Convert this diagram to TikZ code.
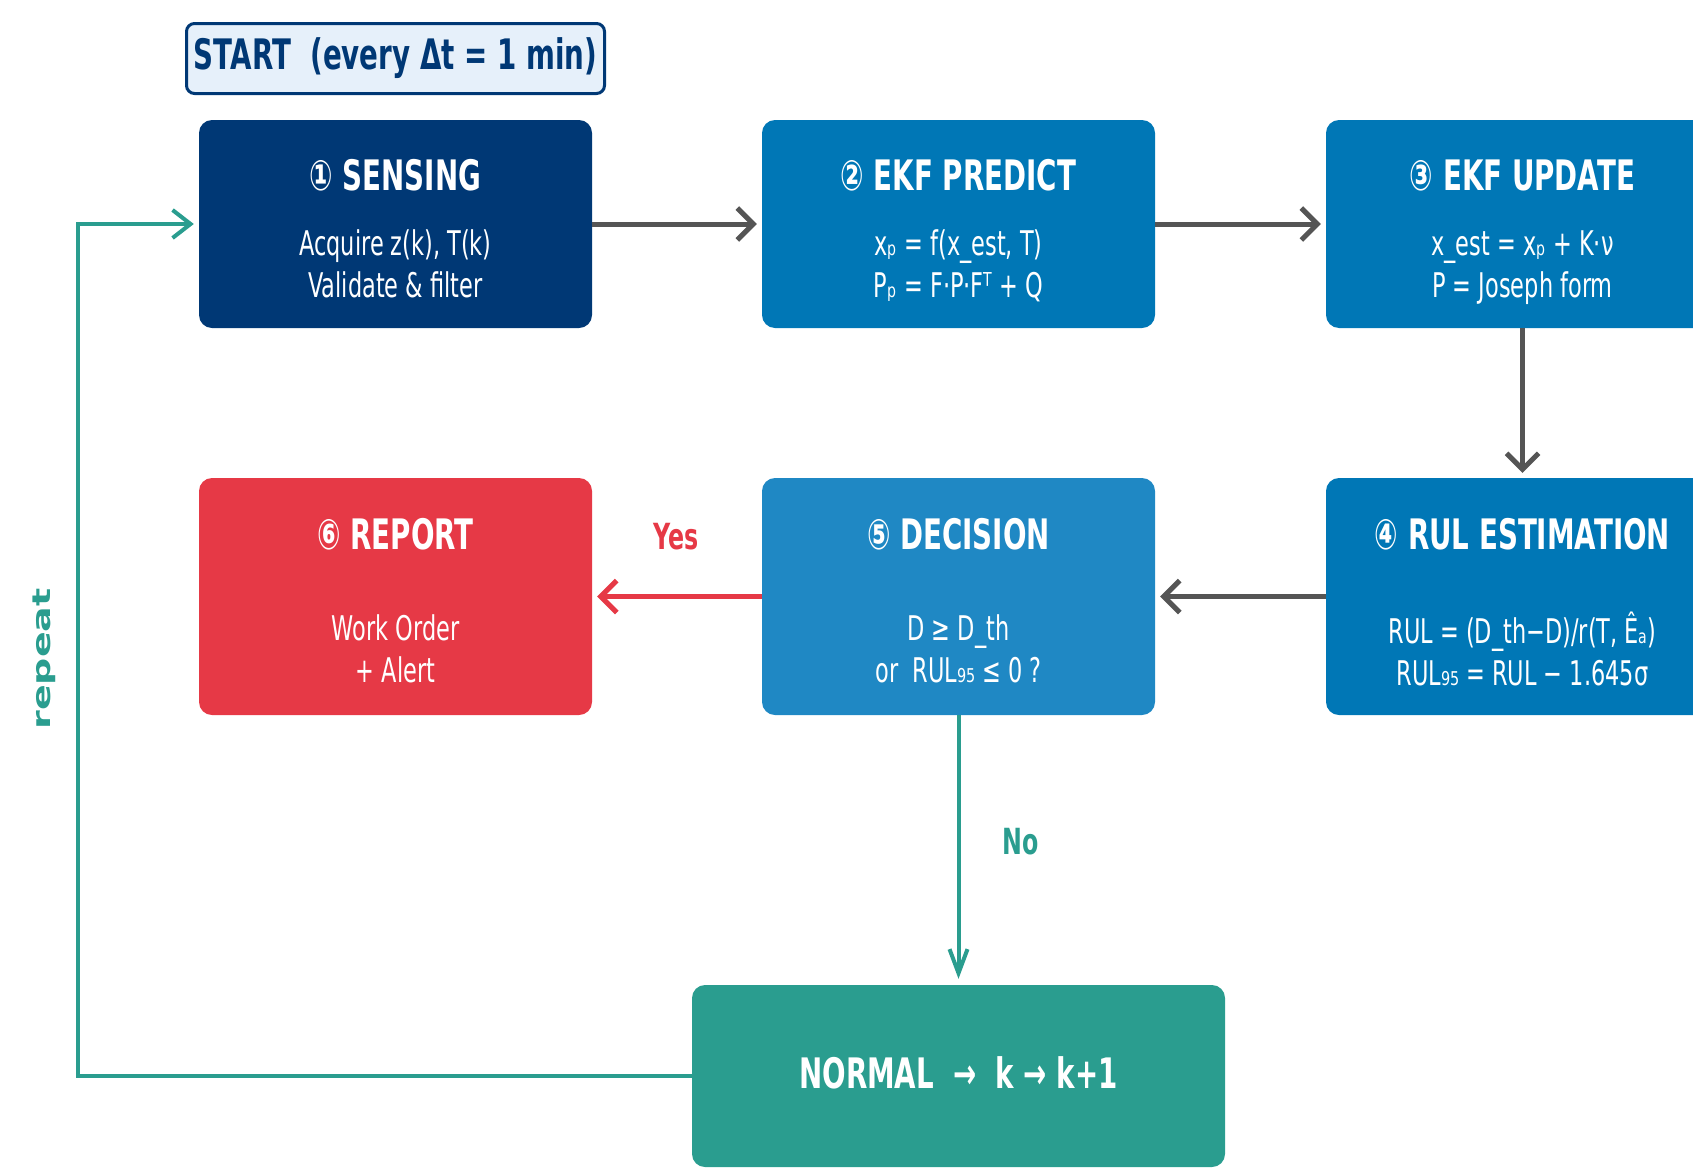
\documentclass[tikz,border=0pt]{standalone}
\usepackage{fontspec}
\setmainfont{DejaVu Sans}[FakeStretch=0.66]
\newfontfamily\widefont{DejaVu Sans}
\usetikzlibrary{arrows.meta}

\definecolor{navy}{HTML}{003875}
\definecolor{ekfblue}{HTML}{0077B6}
\definecolor{decblue}{HTML}{1F88C4}
\definecolor{alertred}{HTML}{E63946}
\definecolor{okteal}{HTML}{2A9D8F}
\definecolor{startfill}{HTML}{E6F0FA}
\definecolor{arrowgray}{HTML}{555555}

\tikzset{
  stepbox/.style={rounded corners=13pt, minimum width=393pt, minimum height=208pt, inner sep=0pt},
  tallbox/.style={stepbox, minimum height=237pt},
  head/.style={text=white, font=\fontsize{42}{50}\selectfont\bfseries, anchor=base},
  body/.style={text=white, font=\fontsize{34}{42}\selectfont, align=center,
               execute at begin node=\strut, execute at end node=\strut},
  answer/.style={font=\fontsize{36}{43}\selectfont\bfseries},
  flow/.style={draw=arrowgray, line width=5pt, -{Straight Barb[length=16pt,width=32pt]}, shorten >=5pt},
  noflow/.style={draw=okteal, line width=4pt, -{Straight Barb[length=24pt,width=18pt]}, shorten >=6pt},
  loopflow/.style={draw=okteal, line width=4pt, -{Straight Barb[length=18pt,width=28pt]}, shorten >=5pt},
}

\begin{document}
\begin{tikzpicture}[x=1pt, y=-1pt]
    \clip (0,0) rectangle (1693,1170);

    \node[draw=navy, line width=3pt, fill=startfill, rounded corners=8pt, minimum width=418pt, minimum height=70pt,
          text=navy, font=\fontsize{42}{50}\selectfont\bfseries] (start) at (395.5,58.5) {START\ \ (every Δt = 1 min)};

    % first row
    \node[stepbox, fill=navy] (sensing) at (395.5,224) {};
    \node[stepbox, fill=ekfblue] (predict) at (958.5,224) {};
    \node[stepbox, fill=ekfblue] (update) at (1522.5,224) {};

    \node[head] (sensinghead) at (395.5,190) {① SENSING};
    \node[body] (sensingbody) at (395.5,270) {Acquire z(k), T(k)\\Validate \& filter};

    \node[head] (predicthead) at (958.5,190) {② EKF PREDICT};
    \node[body] (predictbody) at (958.5,270) {xₚ = f(x\_est, T)\\Pₚ = F·P·Fᵀ + Q};

    \node[head] (updatehead) at (1522.5,190) {③ EKF UPDATE};
    \node[body] (updatebody) at (1522.5,270) {x\_est = xₚ + K·ν\\P = Joseph form};

    % second row
    \node[tallbox, fill=alertred] (report) at (395.5,596.5) {};
    \node[tallbox, fill=decblue] (decision) at (958.5,596.5) {};
    \node[tallbox, fill=ekfblue] (rul) at (1522.5,596.5) {};

    \node[head] (reporthead) at (395.5,549) {⑥ REPORT};
    \node[body] (reportbody) at (395.5,655) {Work Order\\+ Alert};

    \node[head] (decisionhead) at (958.5,549) {⑤ DECISION};
    \node[body] (decisionbody) at (958.5,655) {D ≥ D\_th\\or\ \ RUL₉₅ ≤ 0 ?};

    \node[head] (rulhead) at (1522.5,549) {④ RUL ESTIMATION};
    \node[body] (rulbody) at (1522.5,655) {RUL = (D\_th−D)/r(T, Êₐ)\\RUL₉₅ = RUL − 1.645σ};

    % normal branch
    \node[rounded corners=13pt, minimum width=533pt, minimum height=182pt, inner sep=0pt, fill=okteal] (normal) at (958.5,1076) {};
    \node[text=white, font=\fontsize{42}{50}\selectfont\bfseries] (normaltext) at (958.5,1073) {NORMAL\ \ →\ \ k → k+1};

    \draw[flow] (sensing.east) -- (predict.west);
    \draw[flow] (predict.east) -- (update.west);
    \draw[flow] (update.south) -- (rul.north);
    \draw[flow] (rul.west) -- (decision.east);
    \draw[flow, draw=alertred] (decision.west) -- (report.east);
    \draw[noflow] (decision.south) -- (normal.north);

    \node[answer, text=alertred] (yeslabel) at (676,537) {Yes};
    \node[answer, text=okteal] (nolabel) at (1021,842) {No};

    % loop back
    \coordinate (loopbot) at (78,1076);
    \coordinate (looptop) at (78,224);
    \draw[loopflow] (normal.west) -- (loopbot) -- (looptop) -- (sensing.west);
    \node[text=okteal, rotate=90] (repeatlabel) at (44,659)
        {\scalebox{1}[0.66]{\widefont\fontsize{38}{46}\selectfont\bfseries repeat}};
\end{tikzpicture}
\end{document}
